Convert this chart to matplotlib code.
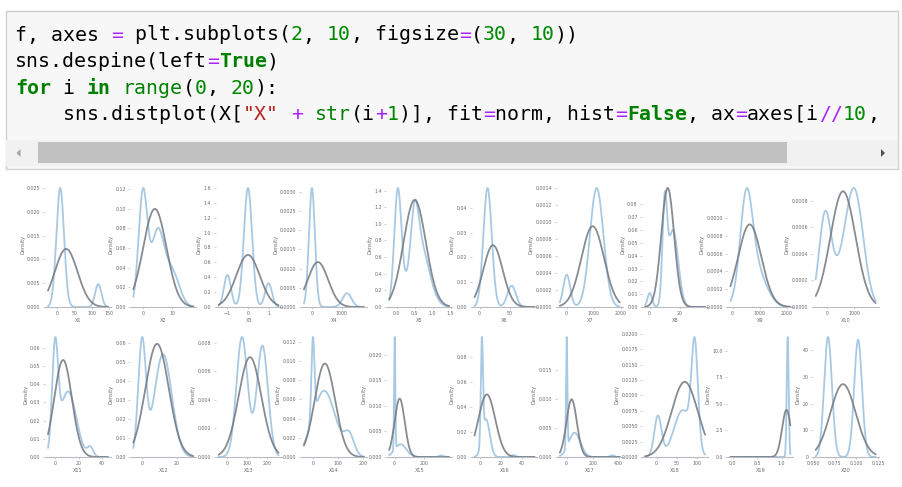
import numpy as np
import matplotlib
matplotlib.use("Agg")
import matplotlib.pyplot as plt
from matplotlib.patches import Rectangle, Polygon
from matplotlib.ticker import FixedLocator, ScalarFormatter

# ---------------- data ----------------
columns = ["X%d" % i for i in range(1, 21)]

# x range covered by both curves (min - cut*bw, max + cut*bw)
supports = [
    (-26, 146), (-3.3, 17.3), (-1.43, 1.49), (-267, 1733), (-0.21, 1.46),
    (-8.7, 91), (-256, 1967), (-3.1, 37), (-85, 2137), (-411, 1771),
    (-6, 45), (-5, 29.3), (-42, 258), (-36, 204), (-38, 376),
    (-5, 52), (-53, 408), (-29, 121), (-0.047, 1.18), (0.0531, 0.1223),
]

# kernel density estimate, as bumps: (centre, spread, height)
kde_bumps = [
    [(9, 11, 0.025), (118, 9, 0.0048)],
    [(0, 1.5, 0.115), (5, 2.2, 0.075), (10, 2.5, 0.035)],
    [(0, 0.2, 1.6), (-1.0, 0.17, 0.43), (1.0, 0.17, 0.32)],
    [(0, 100, 0.0031), (1170, 150, 0.00036)],
    [(0.03, 0.1, 1.37), (0.5, 0.1, 0.57), (0.62, 0.26, 0.79)],
    [(13, 7, 0.048), (53, 7, 0.0086)],
    [(0, 130, 0.00038), (1111, 250, 0.0014)],
    [(0, 1.5, 0.011), (10, 1.5, 0.072), (15.5, 3.5, 0.06)],
    [(500, 220, 0.00098), (800, 400, 0.00046)],
    [(-70, 220, 0.00068), (1000, 320, 0.00086), (450, 300, 0.00018)],
    [(0, 2.5, 0.055), (11, 7, 0.036), (30, 2.5, 0.005)],
    [(0, 2.2, 0.06), (12, 5, 0.054)],
    [(75, 28, 0.0084), (177, 28, 0.0078)],
    [(0, 6, 0.0083), (45, 45, 0.0069), (145, 20, 0.0021)],
    [(0, 4, 0.022), (40, 40, 0.0025), (320, 15, 0.0003)],
    [(2, 1.0, 0.08), (6, 3.5, 0.03), (32, 2, 0.0015)],
    [(0, 5, 0.019), (60, 45, 0.0042), (350, 15, 0.0003)],
    [(3, 9, 0.0066), (65, 22, 0.0076), (95, 8, 0.0164)],
    [(1.125, 0.02, 11.3)],
    [(0.0673, 0.0045, 45), (0.102, 0.0045, 44)],
]

# fitted normal distribution: (mean, standard deviation)
fit_params = [
    (26, 32.7), (4.1, 4.0), (0, 0.57), (200, 341), (0.5, 0.31),
    (22, 16), (963, 420), (12, 4.3), (630, 430), (582, 458),
    (6.8, 7.5), (8.6, 6.7), (115, 57), (48, 41), (34, 35),
    (6.7, 8), (38, 40), (70, 32.7), (1.10, 0.09), (0.0846, 0.0146),
]

x_ticks = [
    [0, 50, 100, 150], [0, 10], [-1, 0, 1], [0, 1000], [0.0, 0.5, 1.0, 1.5],
    [0, 50, 100], [0, 1000, 2000], [0, 20, 40], [0, 1000, 2000], [0, 1000, 2000],
    [0, 20, 40], [0, 20], [0, 100, 200], [0, 100, 200], [0, 200, 400],
    [0, 20, 40], [0, 200, 400], [0, 50, 100], [0.0, 0.5, 1.0], [0.050, 0.075, 0.100, 0.125],
]

y_ticks = [
    [0, 0.005, 0.010, 0.015, 0.020, 0.025],
    [0, 0.02, 0.04, 0.06, 0.08, 0.10, 0.12],
    [0, 0.2, 0.4, 0.6, 0.8, 1.0, 1.2, 1.4, 1.6],
    [0, 0.0005, 0.0010, 0.0015, 0.0020, 0.0025, 0.0030],
    [0, 0.2, 0.4, 0.6, 0.8, 1.0, 1.2, 1.4],
    [0, 0.01, 0.02, 0.03, 0.04],
    [0, 0.0002, 0.0004, 0.0006, 0.0008, 0.0010, 0.0012, 0.0014],
    [0, 0.01, 0.02, 0.03, 0.04, 0.05, 0.06, 0.07, 0.08],
    [0, 0.0002, 0.0004, 0.0006, 0.0008, 0.0010],
    [0, 0.0002, 0.0004, 0.0006, 0.0008],
    [0, 0.01, 0.02, 0.03, 0.04, 0.05, 0.06],
    [0, 0.01, 0.02, 0.03, 0.04, 0.05, 0.06],
    [0, 0.002, 0.004, 0.006, 0.008],
    [0, 0.002, 0.004, 0.006, 0.008, 0.010, 0.012],
    [0, 0.005, 0.010, 0.015, 0.020],
    [0, 0.02, 0.04, 0.06, 0.08],
    [0, 0.005, 0.010, 0.015],
    [0, 0.0025, 0.0050, 0.0075, 0.0100, 0.0125, 0.0150, 0.0175, 0.0200],
    [0, 2.5, 5.0, 7.5, 10.0],
    [0, 10, 20, 30, 40],
]

code_lines = [
    [("f, axes ", "#000000"), ("=", "#aa22ff"), (" plt.subplots(", "#000000"), ("2", "#008800"),
     (", ", "#000000"), ("10", "#008800"), (", figsize", "#000000"), ("=", "#aa22ff"),
     ("(", "#000000"), ("30", "#008800"), (", ", "#000000"), ("10", "#008800"), ("))", "#000000")],
    [("sns.despine(left", "#000000"), ("=", "#aa22ff"), ("True", "#008000"), (")", "#000000")],
    [("for", "#008000"), (" i ", "#000000"), ("in", "#008000"), (" ", "#000000"), ("range", "#008000"),
     ("(", "#000000"), ("0", "#008800"), (", ", "#000000"), ("20", "#008800"), ("):", "#000000")],
    [("    sns.distplot(X[", "#000000"), ('"X"', "#ba2121"), (" ", "#000000"), ("+", "#aa22ff"),
     (" ", "#000000"), ("str", "#008000"), ("(i", "#000000"), ("+", "#aa22ff"), ("1", "#008800"),
     (")], fit", "#000000"), ("=", "#aa22ff"), ("norm, hist", "#000000"), ("=", "#aa22ff"),
     ("False", "#008000"), (", ax", "#000000"), ("=", "#aa22ff"), ("axes[i", "#000000"),
     ("//", "#aa22ff"), ("10", "#008800"), (",", "#000000")],
]
bold_words = {"for", "in", "True", "False"}

# ---------------- figure ----------------
W, H = 902, 487
fig = plt.figure(figsize=(W / 100, H / 100), dpi=100)
bg = fig.add_axes([0, 0, 1, 1])
bg.set_xlim(0, W)
bg.set_ylim(H, 0)
bg.axis("off")

# code cell
bg.add_patch(Rectangle((5.5, 10.5), 892, 158, facecolor="#f7f7f7", edgecolor="#cfcfcf", lw=1))
char_w = 12.0
x0, y0, dy = 15, 35, 26.5
for row, tokens in enumerate(code_lines):
    col = 0
    for txt, colr in tokens:
        bg.text(x0 + col * char_w, y0 + row * dy, txt, family="DejaVu Sans Mono",
                fontsize=12 / 0.602 * 0.72, color=colr, va="center", ha="left",
                fontweight="bold" if txt in bold_words else "normal")
        col += len(txt)

# horizontal scrollbar
bg.add_patch(Rectangle((6, 140), 891, 26, facecolor="#f1f1f1", edgecolor="none"))
bg.add_patch(Rectangle((38, 142), 749, 21, facecolor="#c1c1c1", edgecolor="none"))
bg.add_patch(Polygon([[20.5, 149], [20.5, 157], [16.5, 153]], closed=True, facecolor="#a3a3a3", edgecolor="none"))
bg.add_patch(Polygon([[881, 149], [881, 157], [885, 153]], closed=True, facecolor="#505050", edgecolor="none"))

# ---------------- distribution panels ----------------
KDE_COLOR = "#a8c9e4"
FIT_COLOR = "#72777f"
TEXT_COLOR = "#6a6a6a"
AX_COLOR = "#b8bcc2"

left0, pitch, ax_w = 45.0, 85.3, 66.0
rows_px = [(182, 307), (331, 457)]

for i, name in enumerate(columns):
    r, c = divmod(i, 10)
    top, bot = rows_px[r]
    lx = left0 + c * pitch
    ax = fig.add_axes([lx / W, 1 - bot / H, ax_w / W, (bot - top) / H])

    lo, hi = supports[i]
    x = np.linspace(lo, hi, 400)
    kde = np.zeros_like(x)
    for centre, spread, height in kde_bumps[i]:
        kde += height * np.exp(-0.5 * ((x - centre) / spread) ** 2)
    mu, sd = fit_params[i]
    fit = np.exp(-0.5 * ((x - mu) / sd) ** 2) / (sd * np.sqrt(2 * np.pi))

    ax.plot(x, kde, color=KDE_COLOR, lw=1.3, solid_capstyle="round")
    ax.plot(x, fit, color=FIT_COLOR, lw=1.3, alpha=0.85, solid_capstyle="round")

    ax.set_xlim(lo - 0.05 * (hi - lo), hi + 0.05 * (hi - lo))
    ymax = max(kde.max(), fit.max())
    ax.set_ylim(0, ymax * 1.05)

    ax.xaxis.set_major_locator(FixedLocator(x_ticks[i]))
    ax.yaxis.set_major_locator(FixedLocator(y_ticks[i]))
    fmt = ScalarFormatter(useOffset=False)
    fmt.set_scientific(False)
    ax.yaxis.set_major_formatter(fmt)
    fmtx = ScalarFormatter(useOffset=False)
    fmtx.set_scientific(False)
    ax.xaxis.set_major_formatter(fmtx)

    for s in ("top", "right", "left"):
        ax.spines[s].set_visible(False)
    ax.spines["bottom"].set_color(AX_COLOR)
    ax.spines["bottom"].set_linewidth(0.8)
    ax.tick_params(axis="both", length=1.6, width=0.5, color=AX_COLOR,
                   labelsize=3.4, labelcolor=TEXT_COLOR, pad=1.5)
    ax.set_xlabel(name, fontsize=3.6, color=TEXT_COLOR, labelpad=1.2)
    ax.set_ylabel("Density", fontsize=3.6, color=TEXT_COLOR, labelpad=1.5)
    ax.patch.set_alpha(0)

fig.savefig("out.png", dpi=100, facecolor="white")
